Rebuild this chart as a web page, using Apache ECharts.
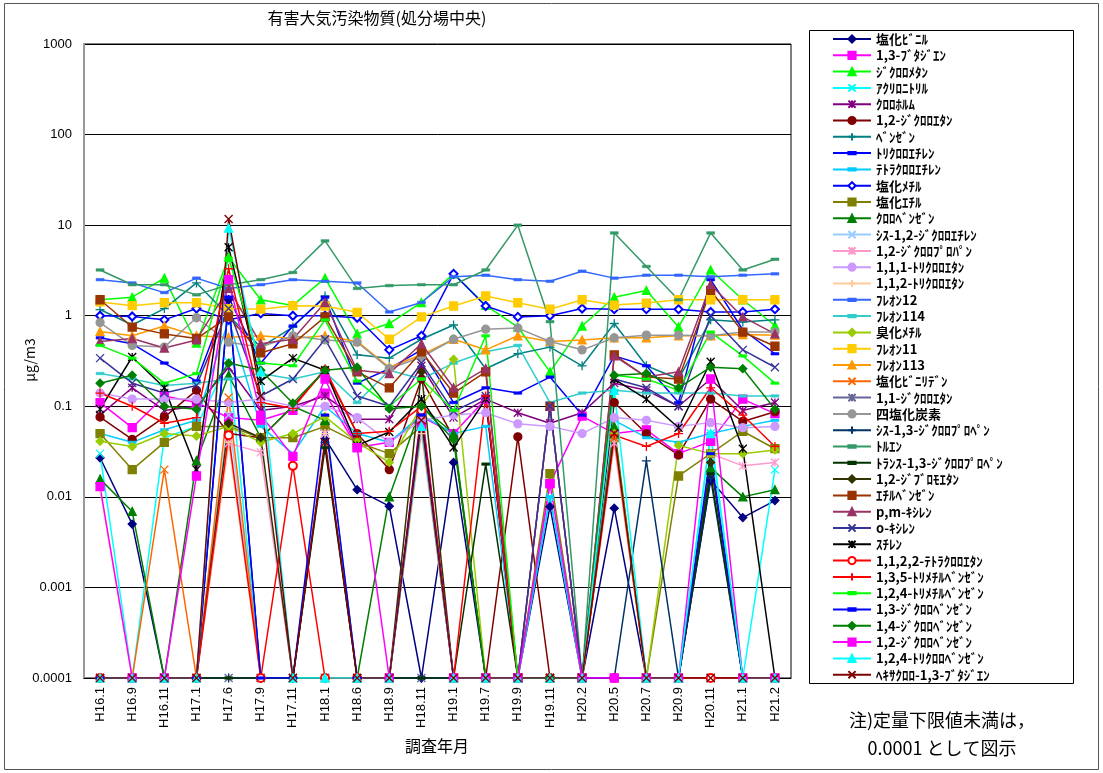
<!DOCTYPE html>
<html><head><meta charset="utf-8">
<script src="https://cdn.jsdelivr.net/npm/echarts@6/dist/echarts.min.js"></script>
<style>html,body{margin:0;padding:0;background:#fff}#c{width:1103px;height:773px}</style>
</head><body><div id="c"></div>
<script>
const categories = ['H16.1','H16.9','H16.11','H17.1','H17.6','H17.9','H17.11','H18.1','H18.6','H18.9','H18.11','H19.1','H19.7','H19.9','H19.11','H20.2','H20.5','H20.7','H20.9','H20.11','H21.1','H21.2'];
const yTicks = [0.0001,0.001,0.01,0.1,1,10,100,1000];

const vinylChloride = [0.027,0.005,0.0001,0.0001,1.5,0.0001,0.0001,0.044,0.012,0.0079,0.0001,0.024,0.0001,0.0001,0.0078,0.0001,0.0075,0.0001,0.0001,0.0153,0.0059,0.0091];
const butadiene13 = [0.11,0.058,0.13,0.11,0.075,0.07,0.09,0.14,0.035,0.04,0.077,0.05,0.12,0.0001,0.014,0.078,0.05,0.055,0.03,0.041,0.12,0.083];
const dichloromethane = [1.5,1.6,2.6,0.5,4.4,1.5,1.3,2.6,0.63,0.82,1.4,2.9,1.3,0.75,0.24,0.77,1.6,1.9,0.75,3.2,1.5,0.78];
const acrylonitrile = [0.03,0.0001,0.045,0.06,0.31,0.0001,0.0001,0.0001,0.0001,0.0001,0.07,0.0001,0.0001,0.0001,0.01,0.0001,0.05,0.0001,0.0001,0.05,0.0001,0.02];
const chloroform = [0.08,0.16,0.09,0.1,0.27,0.09,0.1,0.13,0.072,0.072,0.28,0.075,0.12,0.085,0.065,0.085,0.18,0.15,0.1,0.2,0.09,0.11];
const dichloroethane12 = [0.076,0.043,0.076,0.15,0.05,0.045,0.1,0.25,0.05,0.02,0.2,0.045,0.0001,0.046,0.0001,0.0001,0.11,0.05,0.029,0.12,0.068,0.087];
const benzene = [1.17,0.79,1.2,2.3,1.0,0.45,0.75,1.65,0.37,0.34,0.55,0.79,0.26,0.38,0.45,0.28,0.82,0.28,0.2,0.9,0.85,0.9];
const trichloroethylene = [0.57,0.49,0.3,0.19,1.6,0.3,0.77,1.6,0.18,0.26,0.42,0.11,0.16,0.14,0.21,0.08,0.36,0.28,0.11,2.5,0.7,0.38];
const tetrachloroethylene = [0.05,0.04,0.055,0.07,0.9,0.06,0.03,0.1,0.05,0.04,0.08,0.05,0.06,0.0001,0.01,0.0001,0.07,0.045,0.04,0.05,0.06,0.07];
const methylChloride = [1.0,0.98,0.9,1.2,0.9,1.06,1.0,1.0,0.95,0.42,0.6,2.9,1.28,0.97,1.0,1.2,1.18,1.18,1.18,1.1,1.1,1.18];
const ethylChloride = [0.05,0.02,0.04,0.06,0.06,0.045,0.045,0.06,0.04,0.03,0.06,0.0001,0.0001,0.0001,0.018,0.0001,0.045,0.0001,0.017,0.03,0.053,0.034];
const chlorobenzene = [0.0157,0.0069,0.0001,0.025,0.22,0.045,0.1,0.07,0.0001,0.01,0.1,0.05,0.0001,0.0001,0.0001,0.0001,0.06,0.0001,0.0001,0.021,0.01,0.012];
const cisDichloroethylene = [0.0001,0.0001,0.0001,0.0001,0.08,0.0001,0.0001,0.05,0.0001,0.0001,0.06,0.0001,0.0001,0.0001,0.0001,0.0001,0.0001,0.0001,0.0001,0.0001,0.0001,0.0001];
const dichloropropane12 = [0.0001,0.0001,0.0001,0.0001,0.039,0.031,0.0001,0.05,0.0001,0.0001,0.06,0.0001,0.0001,0.0001,0.0001,0.0001,0.039,0.0001,0.0001,0.03,0.022,0.024];
const trichloroethane111 = [0.14,0.12,0.12,0.12,0.11,0.12,0.1,0.1,0.075,0.04,0.07,0.08,0.085,0.064,0.06,0.05,0.075,0.07,0.06,0.066,0.058,0.06];
const trichloroethane112 = [0.012,0.0001,0.0001,0.0001,0.04,0.0001,0.0001,0.05,0.0001,0.0001,0.05,0.0001,0.0001,0.0001,0.0001,0.0001,0.0001,0.0001,0.0001,0.0001,0.0001,0.0001];
const freon12 = [2.5,2.3,1.8,2.6,2.0,2.2,2.5,2.4,2.3,1.1,1.4,2.7,2.8,2.5,2.4,3.1,2.6,2.8,2.8,2.7,2.8,2.9];
const freon114 = [0.23,0.2,0.17,0.18,0.2,0.23,0.2,0.24,0.11,0.25,0.2,0.3,0.4,0.47,0.11,0.14,0.15,0.14,0.14,0.14,0.13,0.13];
const methylBromide = [0.041,0.036,0.05,0.047,0.06,0.04,0.05,0.077,0.04,0.024,0.1,0.33,0.0001,0.0001,0.0001,0.0001,0.05,0.0001,0.037,0.03,0.03,0.033];
const freon11 = [1.42,1.29,1.39,1.39,1.2,1.18,1.29,1.28,1.09,0.55,0.97,1.28,1.65,1.39,1.18,1.5,1.31,1.38,1.5,1.5,1.5,1.5];
const freon113 = [0.67,0.6,0.77,0.6,0.58,0.6,0.56,0.6,0.52,0.27,0.37,0.55,0.42,0.6,0.52,0.54,0.57,0.57,0.6,0.6,0.62,0.61];
const vinylideneChloride = [0.0001,0.0001,0.02,0.0001,0.125,0.0001,0.0001,0.0001,0.0001,0.0001,0.08,0.0001,0.0001,0.0001,0.0001,0.0001,0.045,0.0001,0.0001,0.0001,0.0001,0.0001];
const dichloroethane11 = [0.0001,0.0001,0.0001,0.0001,0.0001,0.0001,0.0001,0.0001,0.0001,0.0001,0.0001,0.0001,0.0001,0.0001,0.0001,0.0001,0.0001,0.0001,0.0001,0.0001,0.0001,0.0001];
const carbonTetrachloride = [0.84,0.47,0.45,0.95,0.51,0.45,0.6,0.54,0.51,0.26,0.35,0.55,0.71,0.73,0.52,0.42,0.57,0.61,0.61,0.6,0.66,0.66];
const cisDichloropropene = [0.0001,0.0001,0.0001,0.0001,0.0001,0.0001,0.0001,0.04,0.0001,0.0001,0.0001,0.0001,0.0001,0.0001,0.0001,0.0001,0.0001,0.025,0.0001,0.016,0.0001,0.0001];
const toluene = [3.2,2.2,2.2,1.7,2.2,2.5,3.0,6.7,2.0,2.15,2.2,2.2,3.2,10,0.86,0.0001,8.2,3.5,1.5,8.2,3.2,4.2];
const transDichloropropene = [0.0001,0.0001,0.0001,0.0001,0.0001,0.0001,0.0001,0.035,0.0001,0.0001,0.0001,0.0001,0.023,0.0001,0.0001,0.0001,0.0001,0.0001,0.0001,0.018,0.0001,0.0001];
const dibromoethane12 = [0.0001,0.0001,0.0001,0.0001,0.065,0.045,0.0001,0.0001,0.0001,0.0001,0.24,0.0001,0.0001,0.0001,0.0001,0.0001,0.0001,0.0001,0.0001,0.024,0.0001,0.0001];
const ethylbenzene = [1.5,0.75,0.63,0.56,0.97,0.39,0.49,0.97,0.24,0.16,0.4,0.14,0.24,0.0001,0.1,0.0001,0.37,0.21,0.2,1.9,0.66,0.46];
const pmXylene = [0.52,0.56,0.44,0.54,2.0,0.49,0.55,1.4,0.25,0.23,0.49,0.16,0.26,0.0001,0.1,0.0001,0.36,0.21,0.24,2.2,0.97,0.63];
const oXylene = [0.34,0.18,0.14,0.17,1.2,0.13,0.2,0.55,0.13,0.1,0.3,0.088,0.13,0.0001,0.1,0.0001,0.2,0.16,0.1,1.0,0.42,0.27];
const styrene = [0.093,0.35,0.16,0.02,5.7,0.19,0.34,0.25,0.037,0.052,0.12,0.035,0.12,0.0001,0.0001,0.0001,0.2,0.12,0.058,0.31,0.034,0.0001];
const tetrachloroethane1122 = [0.0001,0.0001,0.0001,0.0001,0.048,0.0001,0.022,0.0001,0.0001,0.0001,0.09,0.0001,0.0001,0.0001,0.0001,0.0001,0.0001,0.0001,0.0001,0.0001,0.0001,0.0001];
const trimethylbenzene135 = [0.14,0.1,0.065,0.075,3.3,0.11,0.095,0.26,0.05,0.053,0.1,0.0001,0.13,0.0001,0.0001,0.0001,0.048,0.036,0.05,0.16,0.08,0.036];
const trimethylbenzene124 = [0.47,0.34,0.18,0.23,4.3,0.3,0.28,0.9,0.19,0.1,0.2,0.09,0.6,0.0001,0.0001,0.0001,0.22,0.2,0.15,0.66,0.36,0.18];
const dichlorobenzene13 = [0.0001,0.0001,0.0001,0.0001,1.6,0.0001,0.0001,0.08,0.0001,0.0001,0.08,0.0001,0.0001,0.0001,0.0001,0.0001,0.0001,0.0001,0.0001,0.03,0.0001,0.0001];
const dichlorobenzene14 = [0.18,0.22,0.1,0.093,0.3,0.25,0.108,0.25,0.27,0.094,0.1,0.043,0.0001,0.0001,0.0001,0.0001,0.22,0.23,0.16,0.27,0.26,0.093];
const dichlorobenzene12 = [0.013,0.0001,0.0001,0.017,2.5,0.08,0.028,0.2,0.035,0.0001,0.06,0.0001,0.0001,0.0001,0.014,0.0001,0.0001,0.0001,0.0001,0.2,0.0001,0.0001];
const trichlorobenzene124 = [0.0001,0.0001,0.0001,0.0001,9.3,0.24,0.0001,0.0001,0.0001,0.0001,0.06,0.0001,0.0001,0.0001,0.0001,0.0001,0.15,0.0001,0.0001,0.05,0.0001,0.0001];
const hexachlorobutadiene = [0.0001,0.0001,0.0001,0.0001,11.7,0.13,0.0001,0.04,0.0001,0.0001,0.07,0.0001,0.0001,0.0001,0.0001,0.0001,0.05,0.0001,0.0001,0.0001,0.0001,0.0001];

const names = ['塩化ﾋﾞﾆﾙ','1,3-ﾌﾞﾀｼﾞｴﾝ','ｼﾞｸﾛﾛﾒﾀﾝ','ｱｸﾘﾛﾆﾄﾘﾙ','ｸﾛﾛﾎﾙﾑ','1,2-ｼﾞｸﾛﾛｴﾀﾝ','ﾍﾞﾝｾﾞﾝ','ﾄﾘｸﾛﾛｴﾁﾚﾝ','ﾃﾄﾗｸﾛﾛｴﾁﾚﾝ','塩化ﾒﾁﾙ','塩化ｴﾁﾙ','ｸﾛﾛﾍﾞﾝｾﾞﾝ','ｼｽ-1,2-ｼﾞｸﾛﾛｴﾁﾚﾝ','1,2-ｼﾞｸﾛﾛﾌﾟﾛﾊﾟﾝ','1,1,1-ﾄﾘｸﾛﾛｴﾀﾝ','1,1,2-ﾄﾘｸﾛﾛｴﾀﾝ','ﾌﾚｵﾝ12','ﾌﾚｵﾝ114','臭化ﾒﾁﾙ','ﾌﾚｵﾝ11','ﾌﾚｵﾝ113','塩化ﾋﾞﾆﾘﾃﾞﾝ','1,1-ｼﾞｸﾛﾛｴﾀﾝ','四塩化炭素','ｼｽ-1,3-ｼﾞｸﾛﾛﾌﾟﾛﾍﾟﾝ','ﾄﾙｴﾝ','ﾄﾗﾝｽ-1,3-ｼﾞｸﾛﾛﾌﾟﾛﾍﾟﾝ','1,2-ｼﾞﾌﾞﾛﾓｴﾀﾝ','ｴﾁﾙﾍﾞﾝｾﾞﾝ','p,m-ｷｼﾚﾝ','o-ｷｼﾚﾝ','ｽﾁﾚﾝ','1,1,2,2-ﾃﾄﾗｸﾛﾛｴﾀﾝ','1,3,5-ﾄﾘﾒﾁﾙﾍﾞﾝｾﾞﾝ','1,2,4-ﾄﾘﾒﾁﾙﾍﾞﾝｾﾞﾝ','1,3-ｼﾞｸﾛﾛﾍﾞﾝｾﾞﾝ','1,4-ｼﾞｸﾛﾛﾍﾞﾝｾﾞﾝ','1,2-ｼﾞｸﾛﾛﾍﾞﾝｾﾞﾝ','1,2,4-ﾄﾘｸﾛﾛﾍﾞﾝｾﾞﾝ','ﾍｷｻｸﾛﾛ-1,3-ﾌﾞﾀｼﾞｴﾝ'];
const values = [vinylChloride,butadiene13,dichloromethane,acrylonitrile,chloroform,dichloroethane12,benzene,trichloroethylene,tetrachloroethylene,methylChloride,ethylChloride,chlorobenzene,cisDichloroethylene,dichloropropane12,trichloroethane111,trichloroethane112,freon12,freon114,methylBromide,freon11,freon113,vinylideneChloride,dichloroethane11,carbonTetrachloride,cisDichloropropene,toluene,transDichloropropene,dibromoethane12,ethylbenzene,pmXylene,oXylene,styrene,tetrachloroethane1122,trimethylbenzene135,trimethylbenzene124,dichlorobenzene13,dichlorobenzene14,dichlorobenzene12,trichlorobenzene124,hexachlorobutadiene];

// styles
const colors = ['#000080','#FF00FF','#00FF00','#00FFFF','#800080','#800000','#008080','#0000FF','#00CCFF','#0000FF','#808000','#008000','#99CCFF','#FF99CC','#CC99FF','#FFCC99','#3366FF','#33CCCC','#99CC00','#FFCC00','#FF9900','#FF6600','#666699','#969696','#003366','#339966','#003300','#333300','#993300','#993366','#333399','#000000','#FF0000','#FF0000','#00FF00','#0000FF','#008000','#FF00FF','#00FFFF','#800000'];
const kinds = ['diamond','rect','triangle','x','ast','circle','plus','dash','dash','odiamond','rect','triangle','x','ast','circle','plus','dash','dash','diamond','rect','triangle','x','ast','circle','plus','dash','dash','diamond','rect','triangle','x','ast','ocircle','plus','dash','dash','diamond','rect','triangle','x'];
const SYM = {
  diamond:['diamond',8], rect:['rect',8], triangle:['triangle',8], circle:['circle',8],
  odiamond:['emptyDiamond',8], ocircle:['emptyCircle',8],
  x:['path://M0,0L10,10M10,0L0,10',8],
  ast:['path://M0,0L10,10M10,0L0,10M5,0L5,10',8],
  plus:['path://M5,0L5,10M0,5L10,5',9],
  dash:['path://M0,0M0,3.4L10,3.4L10,6.6L0,6.6ZM10,10',8]
};
const FONT = 'Noto Sans CJK JP';
const series = names.map((n,i)=>{
  const s = SYM[kinds[i]];
  return {
    name:n, type:'line', data: values[i], symbol:s[0], symbolSize:s[1],
    showAllSymbol:true, animation:false,
    lineStyle:{color:colors[i], width:1.5},
    itemStyle:{color: colors[i], borderColor:colors[i], borderWidth: kinds[i]==='dash' ? 0.5 : 1.3},
    emphasis:{disabled:true}
  };
});

const chart = echarts.init(document.getElementById('c'));
chart.setOption({
  backgroundColor:'#fff',
  animation:false,
  grid:{left:84, right:312, top:44, bottom:95, show:true, borderColor:'#000', borderWidth:1},
  legend:{
    orient:'vertical', left:832, top:32, height:720, padding:0,
    itemWidth:38, itemHeight:9, itemGap:2.3,
    textStyle:{fontSize:13, fontWeight:'bold', fontFamily:FONT, color:'#000', lineHeight:14},
    data:names, selectedMode:false
  },
  xAxis:{
    type:'category', data:categories, boundaryGap:true,
    axisLine:{lineStyle:{color:'#000', width:1}},
    axisTick:{inside:true, length:5, interval:0, lineStyle:{color:'#000'}},
    axisLabel:{rotate:90, interval:0, fontSize:13, color:'#000', margin:9, fontFamily:'Liberation Sans'},
    splitLine:{show:false}
  },
  yAxis:{
    type:'log', logBase:10, min:yTicks[0], max:yTicks[yTicks.length-1], splitNumber:7,
    axisLine:{show:true, lineStyle:{color:'#999', width:2}},
    axisTick:{show:false},
    minorTick:{show:false},
    axisLabel:{fontSize:13, color:'#000', margin:12, fontFamily:'Liberation Sans',
      formatter:v=>{ const t = yTicks.find(k=>Math.abs(Math.log10(k)-Math.log10(v))<1e-6); return t===undefined? '' : String(t);} },
    splitLine:{lineStyle:{color:'#000', width:1}}
  },
  graphic:[
    {type:'rect', z:-10, shape:{x:4.5,y:3.5,width:1094,height:766}, style:{fill:'#fff', stroke:'#555', lineWidth:1}},
    {type:'rect', z:0, shape:{x:809.5,y:30.5,width:264,height:653}, style:{fill:'#fff', stroke:'#000', lineWidth:1}},
    {type:'text', x:377, y:18, style:{text:'有害大気汚染物質(処分場中央)', font:'16px "Noto Sans CJK JP"', fill:'#000', textAlign:'center', textVerticalAlign:'middle'}},
    {type:'text', x:30, y:360, rotation:Math.PI/2, style:{text:'μg/m3', font:'14px "Noto Sans CJK JP"', fill:'#000', textAlign:'center', textVerticalAlign:'middle'}},
    {type:'text', x:437, y:746, style:{text:'調査年月', font:'16px "Noto Sans CJK JP"', fill:'#000', textAlign:'center', textVerticalAlign:'middle'}},
    {type:'text', x:942, y:720, style:{text:'注)定量下限値未満は，', font:'18px "Noto Sans CJK JP"', fill:'#000', textAlign:'center', textVerticalAlign:'middle'}},
    {type:'text', x:942, y:748, style:{text:'0.0001 として図示', font:'18px "Noto Sans CJK JP"', fill:'#000', textAlign:'center', textVerticalAlign:'middle'}}
  ],
  series: series
});
</script></body></html>
